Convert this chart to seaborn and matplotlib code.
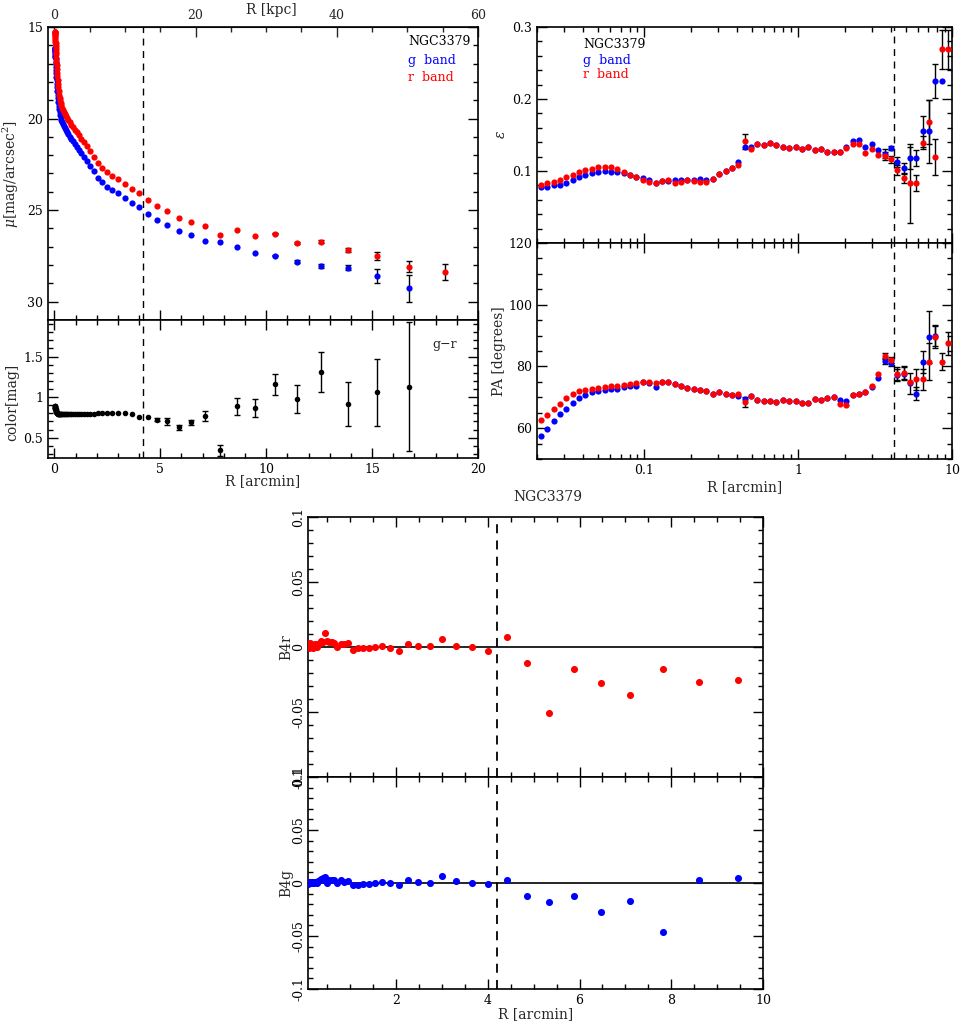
import numpy as np
import pandas as pd
import seaborn as sns
import matplotlib.pyplot as plt
from matplotlib.ticker import MultipleLocator, FuncFormatter, NullFormatter

nan = np.nan

# isophote radii in arcmin (shared by every profile)
R_ARCMIN = [0.0212, 0.0233, 0.0257, 0.0282, 0.0311, 0.0342, 0.0376, 0.0413, 0.0455, 0.0500,
            0.0550, 0.0605, 0.0666, 0.0732, 0.0806, 0.0886, 0.0975, 0.107, 0.118, 0.130,
            0.143, 0.157, 0.173, 0.190, 0.209, 0.230, 0.253, 0.278, 0.306, 0.337,
            0.370, 0.407, 0.448, 0.493, 0.542, 0.596, 0.656, 0.721, 0.793, 0.873,
            0.960, 1.056, 1.161, 1.278, 1.405, 1.546, 1.700, 1.870, 2.057, 2.263,
            2.489, 2.738, 3.012, 3.313, 3.645, 4.009, 4.41, 4.85, 5.34, 5.87,
            6.46, 7.10, 7.81, 8.60, 9.46, 10.40, 11.44, 12.59, 13.85, 15.23,
            16.75, 18.43]

# surface brightness (mag/arcsec^2)
MU_R = [15.25, 15.27, 15.30, 15.35, 15.40, 15.45, 15.50, 15.60, 15.70, 15.80,
        15.90, 16.05, 16.20, 16.35, 16.50, 16.70, 16.90, 17.10, 17.30, 17.50,
        17.70, 17.90, 18.10, 18.30, 18.50, 18.70, 18.85, 19.00, 19.15, 19.28,
        19.40, 19.52, 19.63, 19.74, 19.85, 19.96, 20.08, 20.20, 20.33, 20.46,
        20.60, 20.75, 20.92, 21.10, 21.30, 21.52, 21.78, 22.10, 22.42, 22.69,
        22.93, 23.11, 23.29, 23.56, 23.84, 24.05, 24.42, 24.78, 25.05, 25.45,
        25.63, 25.87, 26.36, 26.07, 26.41, 26.29, 26.80, 26.72, 27.19, 27.50,
        28.08, 28.37]
MU_G = [16.14, 16.16, 16.19, 16.23, 16.28, 16.32, 16.37, 16.46, 16.56, 16.65,
        16.75, 16.89, 17.04, 17.18, 17.33, 17.52, 17.72, 17.91, 18.11, 18.30,
        18.50, 18.69, 18.89, 19.09, 19.29, 19.49, 19.64, 19.79, 19.94, 20.07,
        20.19, 20.31, 20.42, 20.53, 20.64, 20.75, 20.87, 20.99, 21.12, 21.25,
        21.39, 21.54, 21.71, 21.89, 22.09, 22.31, 22.57, 22.89, 23.22, 23.49,
        23.73, 23.91, 24.09, 24.36, 24.63, 24.81, 25.20, 25.52, 25.80, 26.12,
        26.36, 26.67, 26.76, 27.01, 27.32, 27.48, 27.81, 28.05, 28.14, 28.59,
        29.26, nan]
MU_R_ERR = [0.0] * 65 + [0.04, 0.05, 0.08, 0.10, 0.20, 0.32, 0.43]
MU_G_ERR = [0.0] * 65 + [0.05, 0.06, 0.10, 0.15, 0.38, 0.73, nan]

# g-r colour
COLOR_GR = [0.89, 0.89, 0.89, 0.88, 0.88, 0.87, 0.87, 0.86, 0.86, 0.85,
            0.85, 0.84, 0.84, 0.83, 0.83, 0.82, 0.82, 0.81, 0.81, 0.80,
            0.80, 0.79, 0.79, 0.79, 0.79, 0.79, 0.79, 0.79, 0.79, 0.79,
            0.79, 0.79, 0.79, 0.79, 0.79, 0.79, 0.79, 0.79, 0.79, 0.79,
            0.79, 0.79, 0.79, 0.79, 0.79, 0.79, 0.79, 0.79, 0.80, 0.80,
            0.80, 0.80, 0.80, 0.80, 0.79, 0.755, 0.755, 0.72, 0.70, 0.63,
            0.69, 0.77, 0.344, 0.885, 0.87, 1.16, 0.98, 1.31, 0.915, 1.06,
            1.13]
COLOR_ERR = [0.0] * 57 + [0.02, 0.04, 0.03, 0.03, 0.06, 0.065, 0.10, 0.11,
                          0.13, 0.17, 0.25, 0.27, 0.41, 0.79]

# ellipticity
EPS_R = [0.081, 0.083, 0.085, 0.087, 0.091, 0.094, 0.099, 0.101, 0.103, 0.105,
         0.105, 0.105, 0.103, 0.099, 0.094, 0.092, 0.087, 0.085, 0.084, 0.086,
         0.087, 0.084, 0.085, 0.087, 0.086, 0.085, 0.085, 0.089, 0.096, 0.100,
         0.104, 0.108, 0.141, 0.131, 0.137, 0.136, 0.139, 0.136, 0.134, 0.132,
         0.133, 0.131, 0.133, 0.129, 0.131, 0.127, 0.126, 0.127, 0.132, 0.137,
         0.137, 0.125, 0.131, 0.122, 0.121, 0.116, 0.101, 0.090, 0.083, 0.083,
         0.139, 0.168, 0.120, 0.269, 0.269]
EPS_G = [0.078, 0.078, 0.080, 0.081, 0.084, 0.087, 0.091, 0.094, 0.097, 0.099,
         0.100, 0.099, 0.098, 0.097, 0.094, 0.091, 0.090, 0.087, 0.083, 0.086,
         0.086, 0.087, 0.087, 0.088, 0.088, 0.089, 0.088, 0.089, 0.096, 0.100,
         0.104, 0.113, 0.134, 0.133, 0.137, 0.136, 0.139, 0.136, 0.134, 0.132,
         0.133, 0.131, 0.133, 0.129, 0.131, 0.127, 0.126, 0.127, 0.134, 0.142,
         0.143, 0.134, 0.137, 0.129, 0.124, 0.132, 0.113, 0.104, 0.118, 0.118,
         0.155, 0.155, 0.225, 0.225, nan]
EPS_R_ERR = [0.0] * 32 + [0.010] + [0.0] * 21 + [0.006, 0.005, 0.007, 0.006, 0.055, 0.011,
                                                 0.009, 0.031, 0.025, 0.027, 0.027]
EPS_G_ERR = [0.0] * 54 + [0.006, 0.003, 0.007, 0.007, 0.015, 0.011,
                          0.021, 0.044, 0.024, 0.0, nan]

# position angle (degrees)
PA_R = [62.5, 64.3, 66.3, 67.9, 69.9, 71.2, 72.1, 72.5, 72.8, 73.0,
        73.2, 73.6, 73.8, 74.0, 74.2, 74.7, 74.8, 74.8, 74.7, 74.8,
        74.9, 74.4, 73.7, 73.0, 72.7, 72.5, 72.1, 71.2, 71.6, 71.0,
        70.9, 71.0, 68.5, 70.3, 69.2, 68.7, 68.7, 68.5, 69.0, 68.7,
        68.9, 68.1, 68.1, 69.3, 69.1, 69.8, 70.1, 67.9, 67.6, 70.6,
        71.2, 71.7, 73.7, 77.7, 83.4, 82.0, 77.7, 78.0, 74.8, 75.8,
        75.8, 81.5, 89.6, 81.5, 87.5]
PA_G = [57.6, 59.8, 62.3, 64.7, 66.3, 68.3, 69.9, 70.9, 71.7, 71.9,
        72.3, 72.6, 72.8, 73.2, 73.5, 73.7, 74.9, 74.7, 73.4, 74.8,
        74.9, 74.4, 73.7, 73.0, 72.7, 72.5, 72.1, 71.2, 71.6, 71.0,
        70.9, 70.4, 69.5, 70.3, 69.2, 68.7, 68.7, 68.5, 69.0, 68.7,
        68.9, 68.1, 68.1, 69.3, 69.1, 69.8, 70.1, 69.0, 68.8, 70.6,
        71.2, 71.7, 73.2, 76.3, 81.7, 81.0, 77.2, 77.7, 74.5, 71.2,
        81.5, 89.6, 90.0, nan, nan]
PA_R_ERR = [0.0] * 32 + [1.5] + [0.0] * 21 + [1.0, 1.0, 2.0, 2.0, 0.0, 3.5,
                                              3.3, 6.0, 3.5, 2.7, 3.8]
PA_G_ERR = [0.0] * 54 + [1.0, 1.0, 2.0, 2.0, 3.3, 2.2, 3.5, 8.5, 3.5, nan, nan]

# B4 isophote shape coefficient, radii R_ARCMIN[15:65]
B4_R = [0.000, -0.001, 0.001, 0.002, 0.003, 0.002, 0.001, 0.000, -0.001, 0.001,
        0.002, 0.001, 0.000, 0.002, 0.003, 0.005, 0.004, 0.011, 0.005, 0.004,
        0.004, 0.003, 0.000, 0.002, 0.002, 0.003, -0.002, -0.001, -0.001, -0.001,
        0.000, 0.001, -0.001, -0.003, 0.002, 0.001, 0.001, 0.006, 0.001, 0.000,
        -0.003, 0.008, -0.012, -0.051, -0.017, -0.028, -0.037, -0.017, -0.027, -0.025]
B4_G = [-0.001, 0.000, 0.001, 0.000, 0.001, 0.000, 0.001, 0.000, 0.001, 0.000,
        0.001, 0.001, 0.000, 0.002, 0.003, 0.004, 0.005, 0.006, 0.000, 0.003,
        0.003, 0.003, 0.000, 0.003, 0.001, 0.002, -0.002, -0.002, -0.001, -0.001,
        0.000, 0.001, 0.000, -0.002, 0.003, 0.001, 0.000, 0.007, 0.002, 0.000,
        -0.001, 0.003, -0.012, -0.018, -0.012, -0.027, -0.017, -0.046, 0.003, 0.005]

R_CUT = 4.2  # dashed reference radius

sns.set_style("ticks")
plt.rcParams['font.family'] = ['DejaVu Serif']
plt.rcParams['mathtext.fontset'] = 'dejavuserif'
plt.rcParams['font.size'] = 9

W, H = 962, 1023
fig = plt.figure(figsize=(W / 100, H / 100), dpi=100)


def box(x0, y0, x1, y1):
    return fig.add_axes([x0 / W, 1 - y1 / H, (x1 - x0) / W, (y1 - y0) / H])


def style(ax, top=True):
    ax.tick_params(which='both', direction='in', top=top, right=True, width=1,
                   colors='black', labelsize=9)
    ax.tick_params(which='major', length=7)
    ax.tick_params(which='minor', length=3.5)
    for s in ax.spines.values():
        s.set_linewidth(1.2)
        s.set_color('black')


def dots(ax, x, y, color, s=20):
    sns.scatterplot(x=np.asarray(x, float), y=np.asarray(y, float), color=color, s=s,
                    linewidth=0, ax=ax, legend=False, zorder=3)


def errs(ax, x, y, e, color='black'):
    x, y, e = (np.asarray(v, float) for v in (x, y, e))
    m = np.isfinite(y) & np.isfinite(e) & (e > 0)
    ax.errorbar(x[m], y[m], yerr=e[m], fmt='none', ecolor=color, elinewidth=1,
                capsize=2, capthick=1, zorder=2)


gfmt = FuncFormatter(lambda v, p: f'{v:g}')
n = len(R_ARCMIN)

# ---------------- surface brightness ----------------
ax_mu = box(48, 27, 478, 320)
errs(ax_mu, R_ARCMIN, MU_G, MU_G_ERR)
errs(ax_mu, R_ARCMIN, MU_R, MU_R_ERR)
dots(ax_mu, R_ARCMIN, MU_G, 'blue')
dots(ax_mu, R_ARCMIN, MU_R, 'red')
ax_mu.axvline(R_CUT, color='black', ls=(0, (5, 4)), lw=1)
ax_mu.set_xlim(-0.3, 20)
ax_mu.set_ylim(31, 15)
ax_mu.xaxis.set_major_locator(MultipleLocator(5))
ax_mu.xaxis.set_minor_locator(MultipleLocator(1))
ax_mu.yaxis.set_major_locator(MultipleLocator(5))
ax_mu.yaxis.set_minor_locator(MultipleLocator(1))
style(ax_mu, top=False)
ax_mu.tick_params(labelbottom=False)
ax_mu.set_xlabel('')
ax_mu.set_ylabel(r'$\mu$[mag/arcsec$^2$]', fontsize=10)
ax_mu.yaxis.set_label_coords(-0.063, 0.5)
sec = ax_mu.secondary_xaxis('top', functions=(lambda x: x * 3, lambda x: x / 3))
sec.xaxis.set_major_locator(MultipleLocator(20))
sec.xaxis.set_minor_locator(MultipleLocator(5))
sec.xaxis.set_major_formatter(gfmt)
sec.tick_params(which='both', direction='in', width=1, labelsize=9)
sec.tick_params(which='major', length=7)
sec.tick_params(which='minor', length=3.5)
fig.text(271 / W, 1 - 10 / H, 'R [kpc]', ha='center', va='center', fontsize=10)
for txt, c, yy in [('NGC3379', 'black', 0.949), ('g  band', 'blue', 0.887), ('r  band', 'red', 0.826)]:
    ax_mu.text(0.837, yy, txt, color=c, transform=ax_mu.transAxes, ha='left', va='center', fontsize=9)

# ---------------- colour ----------------
ax_col = box(48, 320, 478, 458)
errs(ax_col, R_ARCMIN[:71], COLOR_GR, COLOR_ERR)
dots(ax_col, R_ARCMIN[:71], COLOR_GR, 'black', s=16)
ax_col.axvline(R_CUT, color='black', ls=(0, (5, 4)), lw=1)
ax_col.set_xlim(-0.3, 20)
ax_col.set_ylim(0.25, 1.95)
ax_col.xaxis.set_major_locator(MultipleLocator(5))
ax_col.xaxis.set_minor_locator(MultipleLocator(1))
ax_col.yaxis.set_major_locator(MultipleLocator(0.5))
ax_col.yaxis.set_minor_locator(MultipleLocator(0.1))
ax_col.xaxis.set_major_formatter(gfmt)
ax_col.yaxis.set_major_formatter(gfmt)
style(ax_col)
ax_col.set_xlabel('')
ax_col.set_ylabel('color[mag]', fontsize=10)
ax_col.yaxis.set_label_coords(-0.067, 0.4)
fig.text(263 / W, 1 - 481 / H, 'R [arcmin]', ha='center', va='center', fontsize=10)
ax_col.text(0.893, 0.819, 'g\u2212r', transform=ax_col.transAxes, ha='left', va='center', fontsize=9)

# ---------------- ellipticity ----------------
ax_eps = box(537, 27, 952, 243)
errs(ax_eps, R_ARCMIN[:65], EPS_G, EPS_G_ERR)
errs(ax_eps, R_ARCMIN[:65], EPS_R, EPS_R_ERR)
dots(ax_eps, R_ARCMIN[:65], EPS_G, 'blue')
dots(ax_eps, R_ARCMIN[:65], EPS_R, 'red')
ax_eps.axvline(R_CUT, color='black', ls=(0, (5, 4)), lw=1)
ax_eps.set_xscale('log')
ax_eps.set_xlim(0.02, 10)
ax_eps.set_ylim(0, 0.3)
ax_eps.yaxis.set_major_locator(MultipleLocator(0.1))
ax_eps.yaxis.set_minor_locator(MultipleLocator(0.02))
ax_eps.yaxis.set_major_formatter(FuncFormatter(lambda v, p: '' if abs(v) < 1e-9 else f'{v:g}'))
ax_eps.xaxis.set_minor_formatter(NullFormatter())
style(ax_eps)
ax_eps.tick_params(labelbottom=False)
ax_eps.set_xlabel('')
ax_eps.set_ylabel(r'$\epsilon$', fontsize=10)
ax_eps.yaxis.set_label_coords(-0.07, 0.5)
for txt, c, yy in [('NGC3379', 'black', 0.917), ('g  band', 'blue', 0.847), ('r  band', 'red', 0.782)]:
    ax_eps.text(0.111, yy, txt, color=c, transform=ax_eps.transAxes, ha='left', va='center', fontsize=9)

# ---------------- position angle ----------------
ax_pa = box(537, 243, 952, 459)
errs(ax_pa, R_ARCMIN[:65], PA_G, PA_G_ERR)
errs(ax_pa, R_ARCMIN[:65], PA_R, PA_R_ERR)
dots(ax_pa, R_ARCMIN[:65], PA_G, 'blue')
dots(ax_pa, R_ARCMIN[:65], PA_R, 'red')
ax_pa.axvline(R_CUT, color='black', ls=(0, (5, 4)), lw=1)
ax_pa.set_xscale('log')
ax_pa.set_xlim(0.02, 10)
ax_pa.set_ylim(50, 120)
ax_pa.yaxis.set_major_locator(MultipleLocator(20))
ax_pa.yaxis.set_minor_locator(MultipleLocator(5))
ax_pa.xaxis.set_major_formatter(gfmt)
ax_pa.xaxis.set_minor_formatter(NullFormatter())
style(ax_pa)
ax_pa.set_xlabel('R [arcmin]', fontsize=10, labelpad=2)
ax_pa.set_ylabel('PA [degrees]', fontsize=10)
ax_pa.yaxis.set_label_coords(-0.075, 0.5)

# ---------------- B4 ----------------
fig.text(548 / W, 1 - 497 / H, 'NGC3379', ha='center', va='center', fontsize=10)
for ax_b, vals, c, lab, rows in [(None, B4_R, 'red', 'B4r', (517, 777)),
                                 (None, B4_G, 'blue', 'B4g', (777, 989))]:
    ax_b = box(308, rows[0], 763, rows[1])
    dots(ax_b, R_ARCMIN[15:65], vals, c, s=26)
    ax_b.axhline(0, color='black', lw=1.2, zorder=1)
    ax_b.axvline(R_CUT, color='black', ls=(0, (5, 4)), lw=1.3)
    ax_b.set_xlim(0.08, 10)
    ax_b.set_ylim(-0.1, 0.1)
    ax_b.xaxis.set_major_locator(MultipleLocator(2))
    ax_b.xaxis.set_minor_locator(MultipleLocator(0.5))
    ax_b.yaxis.set_major_locator(MultipleLocator(0.05))
    ax_b.yaxis.set_minor_locator(MultipleLocator(0.01))
    ax_b.xaxis.set_major_formatter(gfmt)
    ax_b.yaxis.set_major_formatter(gfmt)
    style(ax_b)
    ax_b.tick_params(axis='y', labelrotation=90, pad=2)
    for t in ax_b.get_yticklabels():
        t.set_va('center')
    ax_b.set_ylabel(lab, fontsize=10)
    ax_b.yaxis.set_label_coords(-0.033, 0.5)
    if lab == 'B4r':
        ax_b.tick_params(labelbottom=False)
        ax_b.set_xlabel('')
    else:
        ax_b.set_xlabel('R [arcmin]', fontsize=10, labelpad=0)

fig.savefig('out.png', dpi=100)
